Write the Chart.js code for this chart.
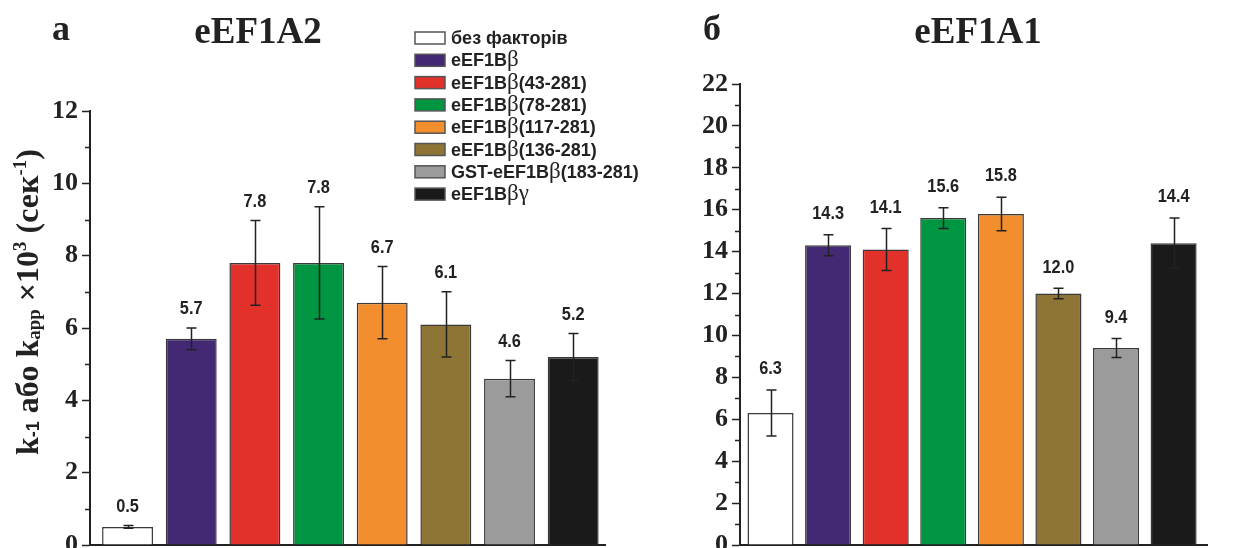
<!DOCTYPE html>
<html><head><meta charset="utf-8">
<script src="https://cdn.jsdelivr.net/npm/chart.js@4.4.1/dist/chart.umd.min.js"></script>
<style>
html,body{margin:0;padding:0;background:#fff;width:1258px;height:548px;overflow:hidden}
canvas{position:absolute;left:0;top:0}
</style></head>
<body>
<canvas id="cA" width="1258" height="548"></canvas>
<canvas id="cB" width="1258" height="548"></canvas>
<script>
// ---- data ----
const categories = ['без факторів','eEF1Bβ','eEF1Bβ(43-281)','eEF1Bβ(78-281)','eEF1Bβ(117-281)','eEF1Bβ(136-281)','GST-eEF1Bβ(183-281)','eEF1Bβγ'];
const valuesA2 = [0.5, 5.7, 7.8, 7.8, 6.7, 6.1, 4.6, 5.2];
const errorsA2 = [0.04, 0.3, 1.17, 1.55, 1.0, 0.9, 0.5, 0.65];
const valuesA1 = [6.3, 14.3, 14.1, 15.6, 15.8, 12.0, 9.4, 14.4];
const errorsA1 = [1.1, 0.5, 1.0, 0.5, 0.8, 0.25, 0.45, 1.2];
const ticksA2 = [0, 2, 4, 6, 8, 10, 12];
const ticksA1 = [0, 2, 4, 6, 8, 10, 12, 14, 16, 18, 20, 22];
const titleA2 = 'eEF1A2';
const titleA1 = 'eEF1A1';
const panelA2 = 'а';
const panelA1 = 'б';
const colors = ['#ffffff', '#432874', '#e2312b', '#009540', '#f28e2d', '#8e7535', '#9a9b9a', '#1a1a1a'];

const INK = '#222';
const SERIF = "'Liberation Serif','Times New Roman',serif";
const SANS = "'Liberation Sans',Arial,sans-serif";

function drawSegments(ctx, segs, x, y, align) {
  let total = 0;
  segs.forEach(s => { ctx.font = s.font; total += ctx.measureText(s.t).width; });
  let cx = align === 'center' ? x - total / 2 : x;
  ctx.textAlign = 'left';
  ctx.textBaseline = 'alphabetic';
  segs.forEach(s => {
    ctx.font = s.font;
    ctx.fillText(s.t, cx, y + (s.dy || 0));
    cx += ctx.measureText(s.t).width;
  });
}

function makeOverlay(cfg) {
  return {
    id: 'overlay_' + cfg.id,
    afterDatasetsDraw(chart) {
      const ctx = chart.ctx, xs = chart.scales.x, ys = chart.scales.y;
      ctx.save();
      ctx.strokeStyle = INK; ctx.fillStyle = INK;
      // minor ticks
      ctx.lineWidth = 1.5;
      for (let v = 1; v < cfg.max; v += 2) {
        const y = Math.round(ys.getPixelForValue(v)) + 0.5;
        ctx.beginPath(); ctx.moveTo(ys.right - 5, y); ctx.lineTo(ys.right, y); ctx.stroke();
      }
      // error bars
      ctx.lineWidth = 1.5;
      cfg.values.forEach((v, i) => {
        const x = Math.round(xs.getPixelForValue(i)) + 0.5;
        const hi = ys.getPixelForValue(v + cfg.errors[i]);
        const lo = ys.getPixelForValue(v - cfg.errors[i]);
        ctx.beginPath();
        ctx.moveTo(x, hi); ctx.lineTo(x, lo);
        ctx.moveTo(x - 5, hi); ctx.lineTo(x + 5, hi);
        ctx.moveTo(x - 5, lo); ctx.lineTo(x + 5, lo);
        ctx.stroke();
      });
      // value labels (narrow bold sans)
      ctx.font = 'bold 19px ' + SANS;
      ctx.textAlign = 'center'; ctx.textBaseline = 'middle';
      cfg.values.forEach((v, i) => {
        const x = xs.getPixelForValue(i);
        const top = ys.getPixelForValue(v + cfg.errors[i]);
        ctx.save();
        ctx.translate(x, top - cfg.labelOffset);
        ctx.scale(0.86, 1);
        ctx.fillText(v.toFixed(1), 0, 0);
        ctx.restore();
      });
      // titles
      ctx.font = 'bold 37px ' + SERIF;
      ctx.textAlign = 'center'; ctx.textBaseline = 'alphabetic';
      ctx.fillText(cfg.title, cfg.titleX, 43);
      ctx.font = 'bold 36px ' + SERIF;
      ctx.textAlign = 'left';
      ctx.fillText(cfg.panel, cfg.panelX, 40);
      // legend
      if (cfg.legend) {
        categories.forEach((c, i) => {
          const cy = 38 + i * 22.3;
          ctx.fillStyle = colors[i];
          ctx.fillRect(415, cy - 6, 30, 12);
          ctx.strokeStyle = '#555'; ctx.lineWidth = 1.5;
          ctx.strokeRect(415, cy - 6, 30, 12);
          ctx.fillStyle = INK;
          const segs = c.split(/([βγ])/).filter(s => s.length).map(s =>
            (s === 'β' || s === 'γ') ? { t: s, font: '23px ' + SERIF, dy: 0 } : { t: s, font: 'bold 18px ' + SANS });
          drawSegments(ctx, segs, 451, cy + 6, 'left');
        });
      }
      // y-axis title
      if (cfg.yTitle) {
        ctx.translate(27, 302);
        ctx.rotate(-Math.PI / 2);
        const big = 'bold 32px ' + SERIF, small = 'bold 19px ' + SERIF, smallSans = 'bold 18px ' + SANS;
        drawSegments(ctx, [
          { t: 'k', font: big },
          { t: '-1', font: smallSans, dy: 1 },
          { t: ' або k', font: big },
          { t: 'app', font: small, dy: 2 },
          { t: ' ×10', font: big },
          { t: '3', font: small, dy: -12 },
          { t: ' (сек', font: big },
          { t: '-1', font: small, dy: -12 },
          { t: ')', font: big }
        ], 0, 11, 'center');
      }
      ctx.restore();
    }
  };
}

function makeChart(id, cfg) {
  return new Chart(document.getElementById(id), {
    type: 'bar',
    data: {
      datasets: [{
        data: cfg.values.map((v, i) => ({ x: i, y: v })),
        backgroundColor: colors,
        borderColor: '#3a3a3a',
        borderWidth: 1.5,
        categoryPercentage: 1,
        barPercentage: 0.8
      }]
    },
    options: {
      responsive: false,
      animation: false,
      devicePixelRatio: 1,
      layout: { padding: cfg.padding },
      plugins: { legend: { display: false }, tooltip: { enabled: false } },
      scales: {
        x: {
          type: 'linear', min: cfg.xmin, max: cfg.xmax, offset: false,
          afterBuildTicks(s) { s.ticks = cfg.values.map((v, i) => ({ value: i })); },
          ticks: { display: false },
          grid: { display: true, offset: false, drawOnChartArea: false, drawTicks: false },
          border: { display: true, width: 2, color: INK },
          afterFit(s) { s.height = 0; s.paddingLeft = 0; s.paddingRight = 0; }
        },
        y: {
          min: 0, max: cfg.max,
          afterBuildTicks(s) { s.ticks = cfg.ticks.map(v => ({ value: v })); },
          ticks: { color: INK, font: { family: SERIF, weight: 'bold', size: 26 }, padding: 4, callback: v => String(v) },
          grid: { drawOnChartArea: false, drawTicks: true, tickLength: 8, tickWidth: 1.5, tickColor: INK },
          border: { display: true, width: 2, color: INK },
          afterFit(s) { s.width = cfg.yWidth; s.paddingTop = 0; s.paddingBottom = 0; }
        }
      }
    },
    plugins: [makeOverlay(cfg)]
  });
}

makeChart('cA', {
  id: 'A', values: valuesA2, errors: errorsA2, ticks: ticksA2, max: 12,
  xmin: -0.59, xmax: 7.5,
  padding: { left: 0, top: 111, right: 1258 - 605, bottom: 3 }, yWidth: 90,
  labelOffset: 19, title: titleA2, titleX: 258, panel: panelA2, panelX: 52,
  legend: true, yTitle: true
});
makeChart('cB', {
  id: 'B', values: valuesA1, errors: errorsA1, ticks: ticksA1, max: 22,
  xmin: -0.53, xmax: 7.58,
  padding: { left: 640, top: 84, right: 1258 - 1207, bottom: 3 }, yWidth: 100,
  labelOffset: 21, title: titleA1, titleX: 978, panel: panelA1, panelX: 703,
  legend: false, yTitle: false
});
</script>
</body></html>
